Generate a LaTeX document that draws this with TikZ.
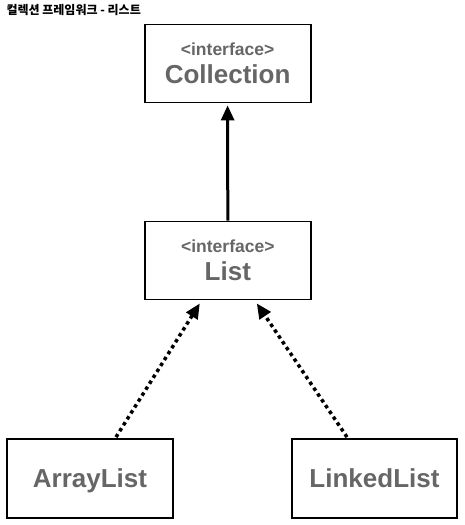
\documentclass[tikz,border=0pt]{standalone}
\usepackage{fontspec}
\setmainfont{Liberation Sans}
\newfontfamily\cjk{Noto Sans CJK KR}
\usetikzlibrary{arrows.meta,calc}
\definecolor{txtgray}{HTML}{666666}
\tikzset{
  box/.style={draw=black, line width=1.8pt, rectangle, minimum width=166pt, minimum height=78pt, inner sep=0pt, align=center, text=txtgray, font=\bfseries},
  leafbox/.style={box, minimum height=79pt, text height=18pt, text depth=0pt},
  solidarrow/.style={line width=3pt, -{Triangle[length=15pt,width=13pt]}},
  dotarrow/.style={line width=3.5pt, dash pattern=on 3.5pt off 3.5pt, -{Triangle[length=15pt,width=13pt]}}
}
\newcommand{\iface}{{\fontsize{17.5}{20}\selectfont <interface>}}
\newcommand{\bigtxt}[1]{{\fontsize{26}{28}\selectfont #1}}
\begin{document}
\begin{tikzpicture}[x=1pt,y=1pt]
\useasboundingbox (0,0) rectangle (465,-525);
\node[anchor=west, font=\cjk\bfseries\fontsize{12}{14}\selectfont] (title) at (3,-10) {컬렉션 프레임워크 - 리스트};
\node[box] (coll) at (227.6,-63.5) {\iface\\[8pt]\bigtxt{Collection}};
\node[box] (list) at (227.8,-260.5) {\iface\\[8pt]\bigtxt{List}};
\node[leafbox] (arr) at (90,-478.5) {\bigtxt{ArrayList}};
\node[leafbox, minimum width=165pt] (lnk) at (374.5,-478.5) {\bigtxt{LinkedList}};
\draw[solidarrow, shorten >=2pt] (list.north) -- (coll.south);
\coordinate (a1) at ($(arr.north)+(26,1)$);
\coordinate (a2) at ($(list.south)+(-28,-3)$);
\coordinate (b1) at ($(lnk.north)+(-27.5,1)$);
\coordinate (b2) at ($(list.south)+(29,-3)$);
\draw[dotarrow] (a1) -- (a2);
\draw[dotarrow] (b1) -- (b2);
\end{tikzpicture}
\end{document}
